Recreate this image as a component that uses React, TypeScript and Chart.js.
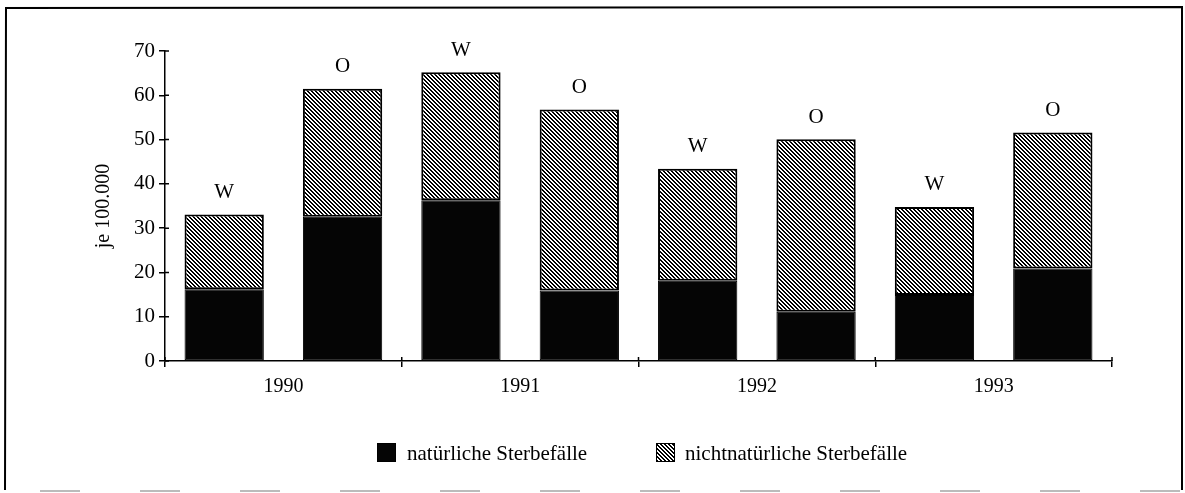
import React, { useEffect, useRef } from "react";
import { Chart, registerables } from "chart.js";

Chart.register(...registerables);

const barCategories = ["1990 W", "1990 O", "1991 W", "1991 O", "1992 W", "1992 O", "1993 W", "1993 O"];
const groups = ["W", "O", "W", "O", "W", "O", "W", "O"];
const years = ["1990", "1991", "1992", "1993"];
const natural = [16.2, 32.6, 36.3, 15.9, 18.1, 11.1, 14.9, 20.9];
const nonNatural = [16.9, 28.9, 28.9, 40.9, 25.3, 39.0, 19.9, 30.7];
const seriesLabels = ["natürliche Sterbefälle", "nichtnatürliche Sterbefälle"];
const yTitle = "je 100.000";

const FONT = "'Liberation Serif', 'Times New Roman', serif";

function makeHatch(): CanvasPattern | string {
  const c = document.createElement("canvas");
  c.width = 4;
  c.height = 4;
  const g = c.getContext("2d");
  if (!g) return "#888";
  g.fillStyle = "#ffffff";
  g.fillRect(0, 0, 4, 4);
  g.fillStyle = "#000000";
  for (let y = 0; y < 4; y++) {
    for (let d = 0; d < 2; d++) {
      g.fillRect((y + d) % 4, y, 1, 1);
    }
  }
  return g.createPattern(c, "repeat") || "#888";
}

const framePlugin = {
  id: "frame",
  beforeDraw(chart: any) {
    const ctx = chart.ctx;
    ctx.save();
    ctx.fillStyle = "#ffffff";
    ctx.fillRect(0, 0, chart.width, chart.height);
    ctx.strokeStyle = "#000";
    ctx.lineWidth = 2;
    ctx.beginPath();
    ctx.moveTo(5, 490);
    ctx.lineTo(6, 8);
    ctx.lineTo(1182, 7);
    ctx.lineTo(1182, 490);
    ctx.stroke();
    ctx.strokeStyle = "#bbb";
    ctx.setLineDash([40, 60]);
    ctx.beginPath();
    ctx.moveTo(40, 491);
    ctx.lineTo(1182, 491);
    ctx.stroke();
    ctx.restore();
  },
};

const innerTickPlugin = {
  id: "innerTicks",
  afterDraw(chart: any) {
    const ctx = chart.ctx;
    const y = chart.scales.y;
    const x2 = chart.scales.x2;
    ctx.save();
    ctx.strokeStyle = "#000";
    ctx.lineWidth = 1.5;
    ctx.beginPath();
    y.ticks.forEach((_t: any, i: number) => {
      const py = y.getPixelForTick(i);
      ctx.moveTo(y.right, py);
      ctx.lineTo(y.right + 4, py);
    });
    const n = x2.ticks.length;
    for (let i = 0; i <= n; i++) {
      const px = x2.left + (i * (x2.right - x2.left)) / n;
      ctx.moveTo(px, x2.top);
      ctx.lineTo(px, x2.top - 4);
    }
    ctx.stroke();
    ctx.restore();
  },
};

const groupLabelPlugin = {
  id: "groupLabels",
  afterDatasetsDraw(chart: any) {
    const ctx = chart.ctx;
    const meta = chart.getDatasetMeta(chart.data.datasets.length - 1);
    ctx.save();
    ctx.fillStyle = "#000";
    ctx.font = `21px ${FONT}`;
    ctx.textAlign = "center";
    ctx.textBaseline = "middle";
    meta.data.forEach((el: any, i: number) => {
      ctx.fillText(groups[i], el.x, el.y - 22);
    });
    ctx.restore();
  },
};

const legendPlugin = {
  id: "customLegend",
  afterDraw(chart: any) {
    const ctx = chart.ctx;
    const boxes = [377, 656];
    const texts = [407, 685];
    ctx.save();
    chart.data.datasets.forEach((ds: any, i: number) => {
      ctx.fillStyle = ds.backgroundColor;
      ctx.fillRect(boxes[i], 443, 19, 19);
      ctx.strokeStyle = "#000";
      ctx.lineWidth = 1;
      ctx.strokeRect(boxes[i] + 0.5, 443.5, 18, 18);
      ctx.fillStyle = "#000";
      ctx.font = `21px ${FONT}`;
      ctx.textAlign = "left";
      ctx.textBaseline = "middle";
      ctx.fillText(ds.label, texts[i], 454);
    });
    ctx.restore();
  },
};

export default function App() {
  const ref = useRef<HTMLCanvasElement | null>(null);

  useEffect(() => {
    if (!ref.current) return;
    const hatch = makeHatch();
    const chart = new Chart(ref.current, {
      type: "bar",
      data: {
        labels: barCategories,
        datasets: [
          {
            label: seriesLabels[0],
            data: natural,
            backgroundColor: "#050505",
            borderColor: "#000",
            borderWidth: 1,
            borderSkipped: false,
            barPercentage: 0.67,
            categoryPercentage: 1,
          },
          {
            label: seriesLabels[1],
            data: nonNatural,
            backgroundColor: hatch as any,
            borderColor: "#000",
            borderWidth: 2,
            borderSkipped: false,
            barPercentage: 0.67,
            categoryPercentage: 1,
          },
        ],
      },
      options: {
        responsive: false,
        animation: false,
        devicePixelRatio: 1,
        layout: { padding: { left: 88, right: 73, top: 51, bottom: 92 } },
        plugins: {
          legend: { display: false },
          tooltip: { enabled: false },
        },
        scales: {
          x: {
            type: "category",
            stacked: true,
            display: false,
          },
          x2: {
            type: "category",
            labels: years,
            position: "bottom",
            offset: true,
            grid: {
              offset: true,
              drawOnChartArea: false,
              tickLength: 6,
              color: "#000",
              lineWidth: 1.5,
            },
            border: { color: "#000", width: 1.5 },
            ticks: {
              color: "#000",
              font: { family: FONT, size: 20 },
              padding: 8,
            },
            afterFit(scale: any) {
              scale.height = 40;
            },
          },
          y: {
            stacked: true,
            min: 0,
            max: 70,
            ticks: {
              stepSize: 10,
              color: "#000",
              font: { family: FONT, size: 21 },
              padding: 4,
            },
            grid: {
              drawOnChartArea: false,
              tickLength: 6,
              color: "#000",
              lineWidth: 1.5,
            },
            border: { color: "#000", width: 1.5 },
            title: {
              display: true,
              text: yTitle,
              color: "#000",
              font: { family: FONT, size: 20 },
              padding: { top: 4, bottom: 0 },
            },
            afterFit(scale: any) {
              scale.width = 77;
            },
          },
        },
      },
      plugins: [framePlugin, groupLabelPlugin, innerTickPlugin, legendPlugin],
    });
    return () => chart.destroy();
  }, []);

  return (
    <div style={{ position: "absolute", left: 0, top: 0, width: 1185, height: 493, background: "#fff" }}>
      <canvas ref={ref} width={1185} height={493} style={{ display: "block" }} />
    </div>
  );
}
